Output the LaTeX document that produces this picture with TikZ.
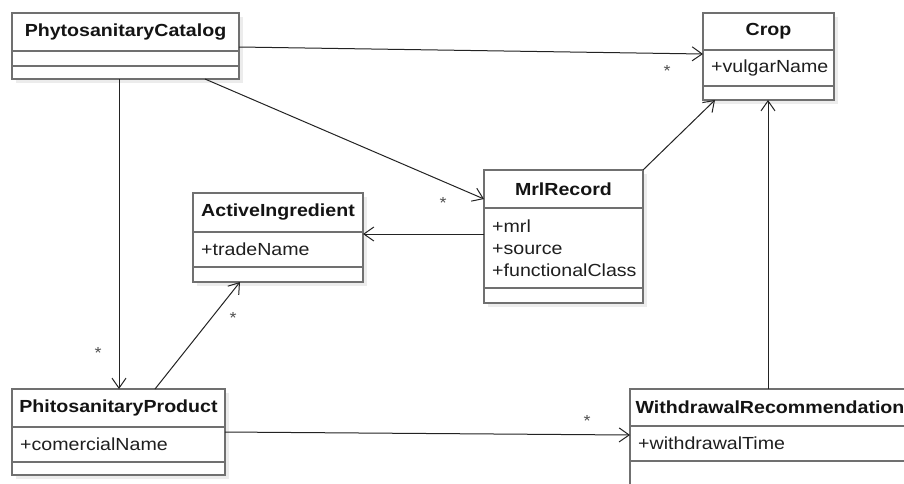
\documentclass[tikz,border=0pt]{standalone}
\usepackage{fontspec}
\setmainfont[FakeStretch=1.12]{Liberation Sans}
\usetikzlibrary{arrows.meta,calc}
\definecolor{boxgray}{RGB}{112,112,112}
\definecolor{linegray}{RGB}{35,35,35}
\definecolor{shadowgray}{RGB}{236,236,236}
\definecolor{stargray}{RGB}{80,80,80}
\newcommand\umlcls[8]{%
  \fill[shadowgray] ({#2+4},{#3+4}) rectangle ({#4+4},{#5+4});
  \node[cls, minimum width={(#4-#2)*1pt}, minimum height={(#5-#3)*1pt}] (#1) at (#2,#3) {};
  \draw[divline] (#2,#6) -- (#4,#6);
  \draw[divline] (#2,#7) -- (#4,#7);
  \node[clstitle] (#1-t) at ({(#2+#4)/2},{(#3+#6)/2}) {#8};
}
\begin{document}
\begin{tikzpicture}[x=1pt,y=-1pt,
  cls/.style={draw=boxgray, line width=1.6pt, fill=white, inner sep=0pt, outer sep=0pt, anchor=north west},
  divline/.style={draw=boxgray, line width=1.6pt},
  clstitle/.style={inner sep=0pt, font=\fontsize{17.5}{21}\selectfont\bfseries, text=black!92},
  attr/.style={inner sep=0pt, anchor=west, align=left, font=\fontsize{17.5}{22}\selectfont, text=black!88},
  assoc/.style={draw=linegray, line width=1pt, -{Straight Barb[length=10pt,width=14pt,line width=1pt]}},
  mult/.style={inner sep=0pt, font=\fontsize{16}{16}\selectfont, text=stargray}
]
\useasboundingbox (0,0) rectangle (904,483);
\fill[white] (0,0) rectangle (904,483);
\clip (0,0) rectangle (904,483);

% classes
\umlcls{cat}{12}{13}{239}{79}{51}{66}{PhytosanitaryCatalog}
\umlcls{crop}{703}{13}{834}{100}{50}{86}{Crop}
\umlcls{act}{193}{193}{363}{282}{232}{267}{ActiveIngredient}
\umlcls{mrl}{484}{170}{643}{303}{208}{288}{MrlRecord}
\umlcls{prod}{12}{389}{225}{475}{427}{462}{PhitosanitaryProduct}
\umlcls{wd}{630}{389}{910}{510}{426}{461}{WithdrawalRecommendation}

% attributes
\node[attr] (crop-a) at (711,68) {+vulgarName};
\node[attr] (act-a) at (201,249.5) {+tradeName};
\node[attr] (mrl-a) at (492,248) {+mrl\\+source\\+functionalClass};
\node[attr] (prod-a) at (20,444.5) {+comercialName};
\node[attr] (wd-a) at (638,443.5) {+withdrawalTime};

% connector end points
\coordinate (c1s) at ($(cat.north east)+(0,34)$);
\coordinate (c1e) at ($(crop.north west)+(0,41)$);
\coordinate (c2s) at ($(cat.south west)+(193,0)$);
\coordinate (c2e) at ($(mrl.north west)+(0,29)$);
\coordinate (c3s) at ($(cat.south west)+(107,0)$);
\coordinate (c4s) at ($(mrl.north west)+(0,64)$);
\coordinate (c5e) at ($(crop.south west)+(12,0)$);
\coordinate (c6s) at ($(prod.north west)+(143,0)$);
\coordinate (c6e) at ($(act.south west)+(47,0)$);
\coordinate (c7s) at ($(prod.north east)+(0,43)$);
\coordinate (c7e) at ($(wd.north west)+(0,46)$);
\coordinate (c8s) at ($(wd.north west)+(138,0)$);

% associations
\draw[assoc] (c1s) -- (c1e);
\draw[assoc] (c2s) -- (c2e);
\draw[assoc] (c3s) -- (c3s |- prod.north);
\draw[assoc] (c4s) -- (c4s -| act.east);
\draw[assoc] (mrl.north east) -- (c5e);
\draw[assoc] (c6s) -- (c6e);
\draw[assoc] (c7s) -- (c7e);
\draw[assoc] (c8s) -- (c8s |- crop.south);

% multiplicities
\node[mult] (m1) at (667,71) {*};
\node[mult] (m2) at (443,203) {*};
\node[mult] (m3) at (98,353) {*};
\node[mult] (m4) at (233,318) {*};
\node[mult] (m5) at (587,421) {*};
\end{tikzpicture}
\end{document}
